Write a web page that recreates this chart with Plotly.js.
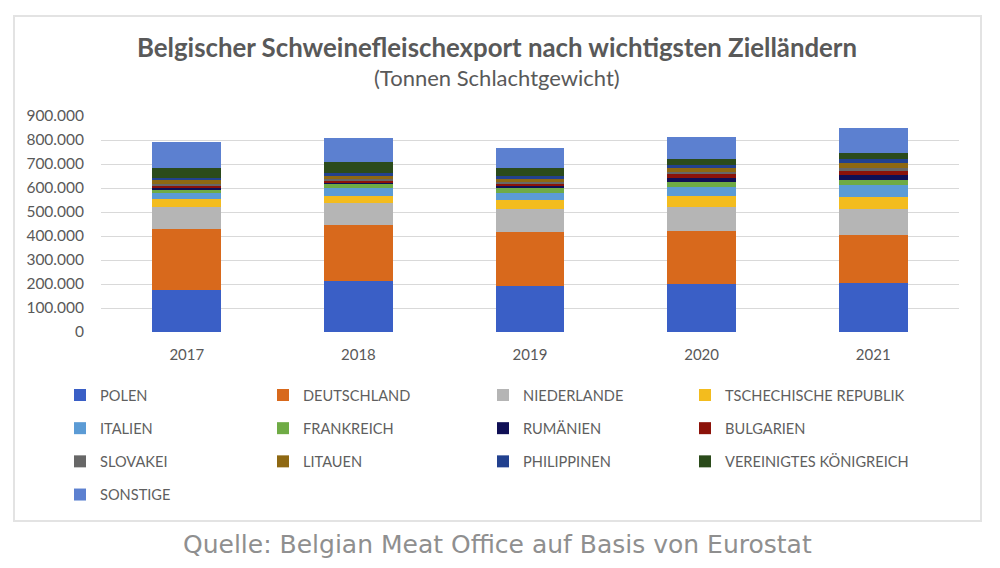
<!DOCTYPE html>
<html><head><meta charset="utf-8">
<script src="https://cdn.plot.ly/plotly-3.0.1.min.js"></script>
<style>
html,body{margin:0;padding:0;background:#fff;}
#wrap{position:relative;width:1000px;height:568px;}
#chart{width:1000px;height:568px;}
#frame{position:absolute;left:13px;top:15px;width:965px;height:503px;border:2px solid #e3e3e3;pointer-events:none;}
</style></head>
<body>
<div id="wrap"><div id="chart"></div><div id="frame"></div></div>
<script>
const years = ['2017','2018','2019','2020','2021'];
const seriesNames = ['POLEN','DEUTSCHLAND','NIEDERLANDE','TSCHECHISCHE REPUBLIK','ITALIEN','FRANKREICH','RUMÄNIEN','BULGARIEN','SLOVAKEI','LITAUEN','PHILIPPINEN','VEREINIGTES KÖNIGREICH','SONSTIGE'];
const polen       = [175000, 213000, 191000, 202000, 205000];
const deutschland = [254000, 232000, 227000, 218000, 199000];
const niederlande = [ 91000,  91000,  95000, 102000, 107000];
const tschechien  = [ 35000,  30000,  38000,  46000,  53000];
const italien     = [ 23000,  32000,  30000,  37000,  48000];
const frankreich  = [ 17000,  17000,  18000,  21000,  21000];
const rumaenien   = [  7000,   9000,  12000,  14000,  21000];
const bulgarien   = [  5000,   5000,   8000,  22000,  18000];
const slowakei    = [ 10000,  10000,   8000,   6000,  10000];
const litauen     = [ 17000,  15000,  14000,  18000,  23000];
const philippinen = [  8000,   8000,   8000,   8000,  15000];
const vk          = [ 43000,  45000,  36000,  25000,  25000];
const sonstige    = [105000, 100000,  81000,  95000, 104000];
const yTicks = [0,100000,200000,300000,400000,500000,600000,700000,800000,900000];

const values = [polen,deutschland,niederlande,tschechien,italien,frankreich,rumaenien,bulgarien,slowakei,litauen,philippinen,vk,sonstige];
const colors = ['#3a5fc6','#d8691c','#b5b5b5','#f3bc1e','#5b9bd5','#6fab45','#0f0f55','#8c1209','#676767','#8e6812','#22418f','#2b4b1b','#5c80d0'];
const legendIds = ['legend','legend2','legend3','legend4'];

const traces = seriesNames.map((n,i)=>({
  type:'bar', name:n, x:years, y:values[i],
  marker:{color:colors[i], line:{width:0}},
  legend: legendIds[i%4], legendgroup:'g'+i,
  hoverinfo:'name+y'
}));

const font = 'Lato, "Open Sans", sans-serif';
const legendBase = {
  xref:'container', yref:'container', xanchor:'left', yanchor:'top',
  y: 1 - 379/568, orientation:'v', traceorder:'grouped', tracegroupgap:11.2,
  font:{family:font,size:14.6,color:'#5f5f5f'}, bgcolor:'rgba(0,0,0,0)', borderwidth:0,
  itemclick:false, itemdoubleclick:false
};
const colX = [60, 263, 483, 685];

const layout = {
  width:1000, height:568,
  margin:{l:101, r:41, t:116, b:236.3, autoexpand:false},
  paper_bgcolor:'#fff', plot_bgcolor:'#fff',
  separators:',.',
  barmode:'stack', bargap:0.6,
  font:{family:font, color:'#595959'},
  title:{text:'<b>Belgischer Schweinefleischexport nach wichtigsten Zielländern</b>',
    font:{family:font,size:25.8,color:'#595959'}, x:0.497, xref:'container', xanchor:'center',
    y:1-48/568, yref:'container', yanchor:'middle', automargin:false},
  xaxis:{type:'category', showgrid:false, zeroline:false, showline:false, ticks:'', automargin:false,
    tickfont:{family:font,size:15,color:'#595959'}, ticklabelstandoff:12, fixedrange:true},
  yaxis:{range:[0,900000], tickvals:yTicks, tickformat:',d', showgrid:true, gridcolor:'#d9d9d9', gridwidth:1,
    zeroline:false, showline:false, ticks:'', automargin:false, tickfont:{family:font,size:15.5,color:'#595959'},
    ticklabelstandoff:16, fixedrange:true},
  legend:Object.assign({}, legendBase, {x:colX[0]/1000}),
  legend2:Object.assign({}, legendBase, {x:colX[1]/1000}),
  legend3:Object.assign({}, legendBase, {x:colX[2]/1000}),
  legend4:Object.assign({}, legendBase, {x:colX[3]/1000}),
  showlegend:true,
  annotations:[
    {text:'(Tonnen Schlachtgewicht)', xref:'paper', yref:'paper', x:(497-101)/858, y:(331.7-78)/215.7,
     xanchor:'center', yanchor:'middle', showarrow:false, font:{family:font,size:22,color:'#595959'}},
    {text:'Quelle: Belgian Meat Office auf Basis von Eurostat', xref:'paper', yref:'paper', x:(497-101)/858, y:(331.7-544)/215.7,
     xanchor:'center', yanchor:'middle', showarrow:false, font:{family:'"DejaVu Sans", sans-serif',size:25,color:'#8f8f8f'}}
  ]
};
Plotly.newPlot('chart', traces, layout, {displayModeBar:false});
</script>
</body></html>
